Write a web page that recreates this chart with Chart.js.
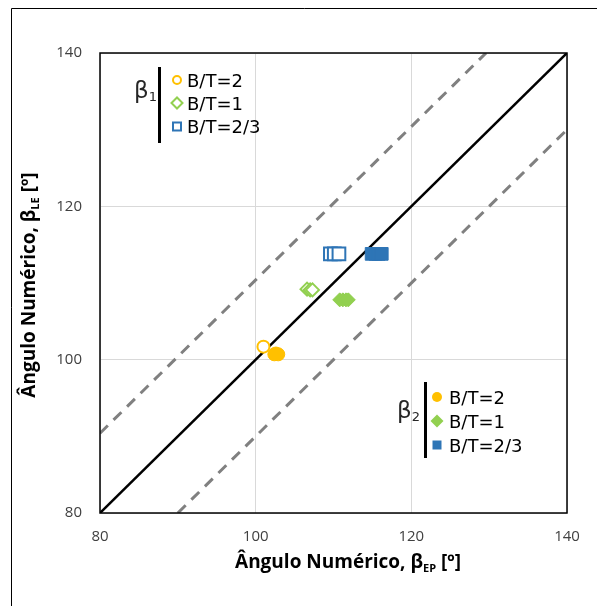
<!DOCTYPE html>
<html>
<head>
<meta charset="utf-8">
<script src="https://cdn.jsdelivr.net/npm/chart.js@4/dist/chart.umd.min.js"></script>
<style>
  html, body { margin: 0; padding: 0; background: #fff; }
  #wrap { width: 597px; height: 606px; position: relative; }
</style>
</head>
<body>
<div id="wrap"><canvas id="c" width="597" height="606"></canvas></div>
<script>
// Axis ticks (both axes share the same range)
const axisTicks = [80, 100, 120, 140];

// β1 results (open markers): [β_EP, β_LE]
const beta1_BT2   = [[101.0, 101.7]];
const beta1_BT1   = [[106.6, 109.2], [107.0, 109.1], [107.3, 109.1]];
const beta1_BT23  = [[109.6, 113.8], [110.1, 113.8], [110.7, 113.8]];

// β2 results (filled markers): [β_EP, β_LE]
const beta2_BT2   = [[102.4, 100.7], [102.6, 100.8], [102.9, 100.7]];
const beta2_BT1   = [[110.8, 107.8], [111.2, 107.8], [111.6, 107.8], [111.9, 107.8]];
const beta2_BT23  = [[114.9, 113.8], [115.4, 113.8], [115.8, 113.8], [116.2, 113.8]];

// Reference lines: identity and ±10° band
const identityLine = [[80, 80], [140, 140]];
const upperBand    = [[80, 90.4], [129.6, 140]];
const lowerBand    = [[90, 80], [140, 130]];

const ORANGE = '#FFC000', GREEN = '#92D050', BLUE = '#2E75B6';

const pts = arr => arr.map(([x, y]) => ({ x, y }));

function lineSet(data, color, width, dash) {
  return {
    type: 'line', data: pts(data), showLine: true, borderColor: color,
    borderWidth: width, borderDash: dash || [], pointRadius: 0, fill: false,
    order: 10, borderCapStyle: 'butt'
  };
}
function markerSet(data, style, radius, color, open) {
  return {
    data: pts(data), pointStyle: style, pointRadius: radius, pointHoverRadius: radius,
    backgroundColor: open ? '#FFFFFF' : color, borderColor: color,
    borderWidth: open ? 2 : 1, order: 0
  };
}

// Rich text helper: parts = [{t, font, dy}]
function drawRich(ctx, parts, x, y, color, align) {
  ctx.save();
  ctx.fillStyle = color;
  ctx.textBaseline = 'alphabetic';
  ctx.textAlign = 'left';
  let total = 0;
  parts.forEach(p => { ctx.font = p.font; p.w = ctx.measureText(p.t).width; total += p.w; });
  let cx = align === 'center' ? x - total / 2 : x;
  parts.forEach(p => { ctx.font = p.font; ctx.fillText(p.t, cx, y + (p.dy || 0)); cx += p.w; });
  ctx.restore();
}

function legendMarker(ctx, shape, x, y, color, open) {
  ctx.save();
  ctx.beginPath();
  if (shape === 'circle') {
    ctx.arc(x, y, open ? 4 : 5, 0, Math.PI * 2);
  } else if (shape === 'diamond') {
    const r = open ? 5.5 : 6.5;
    ctx.moveTo(x - r, y); ctx.lineTo(x, y - r); ctx.lineTo(x + r, y); ctx.lineTo(x, y + r); ctx.closePath();
  } else {
    const h = open ? 4 : 4.5;
    ctx.rect(x - h, y - h, 2 * h, 2 * h);
  }
  if (open) {
    ctx.fillStyle = '#fff'; ctx.fill();
    ctx.lineWidth = 2; ctx.strokeStyle = color; ctx.stroke();
  } else {
    ctx.fillStyle = color; ctx.fill();
  }
  ctx.restore();
}

function legendGroup(ctx, sub, bx, by, barX, barTop, barBot, mx, textX, rows, open) {
  const LFONT = '18px "DejaVu Sans"';
  drawRich(ctx, [
    { t: 'β', font: '23px "DejaVu Sans"' },
    { t: sub, font: '13px "DejaVu Sans"', dy: 3 }
  ], bx, by, '#262626', 'left');
  ctx.save();
  ctx.fillStyle = '#000';
  ctx.fillRect(barX, barTop, 3, barBot - barTop);
  ctx.restore();
  rows.forEach(r => {
    legendMarker(ctx, r.shape, mx, r.y, r.color, open);
    drawRich(ctx, [{ t: r.label, font: LFONT }], textX, r.y + 6.5, '#000', 'left');
  });
}

const decorations = {
  id: 'decorations',
  beforeDraw(chart) {
    const ctx = chart.ctx;
    ctx.save();
    ctx.fillStyle = '#fff';
    ctx.fillRect(0, 0, chart.width, chart.height);
    // outer frame (left and top edges)
    ctx.strokeStyle = '#000';
    ctx.lineWidth = 1;
    ctx.beginPath();
    ctx.moveTo(11.5, chart.height); ctx.lineTo(11.5, 8.5); ctx.lineTo(chart.width, 8.5);
    ctx.stroke();
    ctx.restore();
  },
  afterDraw(chart) {
    const ctx = chart.ctx;
    const a = chart.chartArea;
    // plot area frame
    ctx.save();
    ctx.strokeStyle = '#000';
    ctx.lineWidth = 1.5;
    ctx.strokeRect(a.left, a.top, a.right - a.left, a.bottom - a.top);
    ctx.restore();

    // axis titles
    const TF = 'bold 19px "Open Sans"';
    const SF = 'bold 11px "Open Sans"';
    drawRich(ctx, [
      { t: 'Ângulo Numérico, β', font: TF },
      { t: 'EP', font: SF, dy: 4 },
      { t: ' [º]', font: TF }
    ], 348, 568, '#000', 'center');

    ctx.save();
    ctx.translate(35, 285);
    ctx.rotate(-Math.PI / 2);
    drawRich(ctx, [
      { t: 'Ângulo Numérico, β', font: TF },
      { t: 'LE', font: SF, dy: 4 },
      { t: ' [º]', font: TF }
    ], 0, 0, '#000', 'center');
    ctx.restore();

    // series legends
    legendGroup(ctx, '1', 134, 98, 158, 67, 143, 177, 187, [
      { shape: 'circle', y: 80, color: ORANGE, label: 'B/T=2' },
      { shape: 'diamond', y: 103, color: GREEN, label: 'B/T=1' },
      { shape: 'square', y: 126.5, color: BLUE, label: 'B/T=2/3' }
    ], true);
    legendGroup(ctx, '2', 397, 418, 424, 382, 458, 437, 449, [
      { shape: 'circle', y: 397, color: ORANGE, label: 'B/T=2' },
      { shape: 'diamond', y: 421, color: GREEN, label: 'B/T=1' },
      { shape: 'square', y: 445, color: BLUE, label: 'B/T=2/3' }
    ], false);
  }
};

const tickFont = { family: '"Open Sans"', size: 15 };

new Chart(document.getElementById('c'), {
  type: 'scatter',
  data: {
    datasets: [
      lineSet(upperBand, '#808080', 3, [11, 8]),
      lineSet(lowerBand, '#808080', 3, [11, 8]),
      lineSet(identityLine, '#000000', 2.5),
      markerSet(beta1_BT2, 'circle', 6, ORANGE, true),
      markerSet(beta2_BT2, 'circle', 6.5, ORANGE, false),
      markerSet(beta1_BT1, 'rectRot', 6.5, GREEN, true),
      markerSet(beta2_BT1, 'rectRot', 7, GREEN, false),
      markerSet(beta1_BT23, 'rect', 9, BLUE, true),
      markerSet(beta2_BT23, 'rect', 9, BLUE, false)
    ]
  },
  options: {
    responsive: false,
    animation: false,
    devicePixelRatio: 1,
    layout: { padding: { top: 53, right: 30, left: 0, bottom: 0 } },
    plugins: { legend: { display: false }, tooltip: { enabled: false } },
    scales: {
      x: {
        type: 'linear', min: 80, max: 140,
        afterBuildTicks: s => { s.ticks = axisTicks.map(v => ({ value: v })); },
        afterFit: s => { s.height = 93; },
        grid: { color: '#D9D9D9', lineWidth: 1, drawTicks: false },
        border: { display: false },
        ticks: { font: tickFont, color: '#404040', padding: 15, maxRotation: 0 }
      },
      y: {
        type: 'linear', min: 80, max: 140,
        afterBuildTicks: s => { s.ticks = axisTicks.map(v => ({ value: v })); },
        afterFit: s => { s.width = 100; },
        grid: { color: '#D9D9D9', lineWidth: 1, drawTicks: false },
        border: { display: false },
        ticks: { font: tickFont, color: '#404040', padding: 18 }
      }
    }
  },
  plugins: [decorations]
});
</script>
</body>
</html>
